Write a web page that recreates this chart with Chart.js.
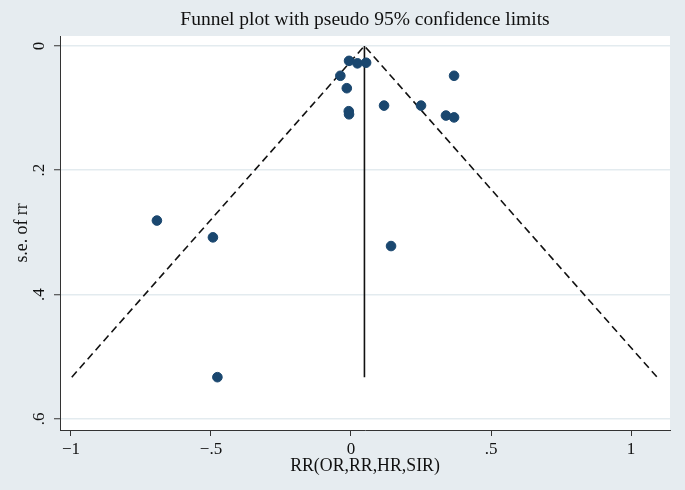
<!DOCTYPE html>
<html>
<head>
<meta charset="utf-8">
<script src="https://cdn.jsdelivr.net/npm/chart.js@4.4.0/dist/chart.umd.min.js"></script>
<style>
  html, body { margin: 0; padding: 0; background: #e6ecf0; }
  #wrap { width: 685px; height: 490px; }
</style>
</head>
<body>
<div id="wrap"><canvas id="funnel" width="685" height="490"></canvas></div>
<script>
// effect size (x) and standard error (y) of each study
const rrValues = [-0.693, -0.493, -0.477, 0.143, -0.007, 0.023, 0.054, -0.038, -0.015, -0.008, -0.007, 0.118, 0.250, 0.368, 0.339, 0.368];
const seValues = [0.281, 0.308, 0.533, 0.322, 0.024, 0.028, 0.027, 0.048, 0.068, 0.105, 0.110, 0.096, 0.096, 0.048, 0.112, 0.115];

// pooled estimate line and pseudo 95% limits
const pooledX = [0.048, 0.048];
const pooledY = [0, 0.533];
const limitX = [-0.997, 0.048, 1.093];
const limitY = [0.533, 0, 0.533];

// ticks
const xTickVals = [-1, -0.5, 0, 0.5, 1];
const xTickLabels = ['\u22121', '\u2212.5', '0', '.5', '1'];
const yTickVals = [0, 0.2, 0.4, 0.6];
const yTickLabels = ['0', '.2', '.4', '.6'];

const toPoints = (xs, ys) => xs.map((x, i) => ({ x: x, y: ys[i] }));

const serif = 'Liberation Serif, Times New Roman, serif';

// fundo cinza-azulado e area do grafico branca
const bgPlugin = {
  id: 'bgPlugin',
  beforeDraw(chart) {
    const { ctx, chartArea } = chart;
    ctx.save();
    ctx.fillStyle = '#e6ecf0';
    ctx.fillRect(0, 0, chart.width, chart.height);
    ctx.fillStyle = '#ffffff';
    ctx.fillRect(chartArea.left, chartArea.top, chartArea.right - chartArea.left, chartArea.bottom - chartArea.top);
    ctx.restore();
  }
};

new Chart(document.getElementById('funnel').getContext('2d'), {
  type: 'scatter',
  data: {
    datasets: [
      {
        label: 'studies',
        data: toPoints(rrValues, seValues),
        backgroundColor: '#1a476f',
        borderColor: '#1a476f',
        pointRadius: 4.8,
        order: 0
      },
      {
        label: 'pooled',
        data: toPoints(pooledX, pooledY),
        showLine: true,
        borderColor: '#111111',
        borderWidth: 1.6,
        pointRadius: 0,
        order: 1
      },
      {
        label: 'limits',
        data: toPoints(limitX, limitY),
        showLine: true,
        borderColor: '#111111',
        borderWidth: 1.6,
        borderDash: [7.5, 4.5],
        pointRadius: 0,
        order: 1
      }
    ]
  },
  options: {
    responsive: false,
    animation: false,
    layout: { padding: { top: 0, right: 15, bottom: 0, left: 0 } },
    plugins: {
      legend: { display: false },
      tooltip: { enabled: false },
      title: {
        display: true,
        fullSize: false,
        text: 'Funnel plot with pseudo 95% confidence limits',
        color: '#111111',
        font: { family: serif, size: 19.5, weight: 'normal', lineHeight: 1.2 },
        padding: { top: 8, bottom: 4.6 }
      }
    },
    scales: {
      x: {
        type: 'linear',
        min: -1.039,
        max: 1.139,
        afterBuildTicks: scale => { scale.ticks = xTickVals.map(v => ({ value: v })); },
        afterFit: scale => { scale.height = 60; },
        ticks: {
          color: '#111111',
          font: { family: serif, size: 17 },
          padding: 3,
          maxRotation: 0,
          callback: v => xTickLabels[xTickVals.indexOf(v)]
        },
        grid: { drawOnChartArea: false, tickLength: 6, tickColor: '#333333', tickWidth: 1 },
        border: { display: true, color: '#333333', width: 1 },
        title: {
          display: true,
          text: 'RR(OR,RR,HR,SIR)',
          color: '#111111',
          font: { family: serif, size: 17.8 },
          padding: { top: 0, bottom: 13 }
        }
      },
      y: {
        type: 'linear',
        reverse: true,
        min: -0.016,
        max: 0.618,
        afterBuildTicks: scale => { scale.ticks = yTickVals.map(v => ({ value: v })); },
        afterFit: scale => { scale.width = 60; },
        ticks: {
          color: '#111111',
          font: { family: serif, size: 17 },
          minRotation: 90,
          maxRotation: 90,
          crossAlign: 'center',
          padding: 8,
          callback: v => yTickLabels[yTickVals.indexOf(v)]
        },
        grid: { color: '#e3ebef', lineWidth: 1.5, tickLength: 6, tickColor: '#333333', tickWidth: 1 },
        border: { display: true, color: '#333333', width: 1 },
        title: {
          display: true,
          text: 's.e. of rr',
          color: '#111111',
          font: { family: serif, size: 17.8 },
          padding: { top: 12, bottom: 0 }
        }
      }
    }
  },
  plugins: [bgPlugin]
});
</script>
</body>
</html>
